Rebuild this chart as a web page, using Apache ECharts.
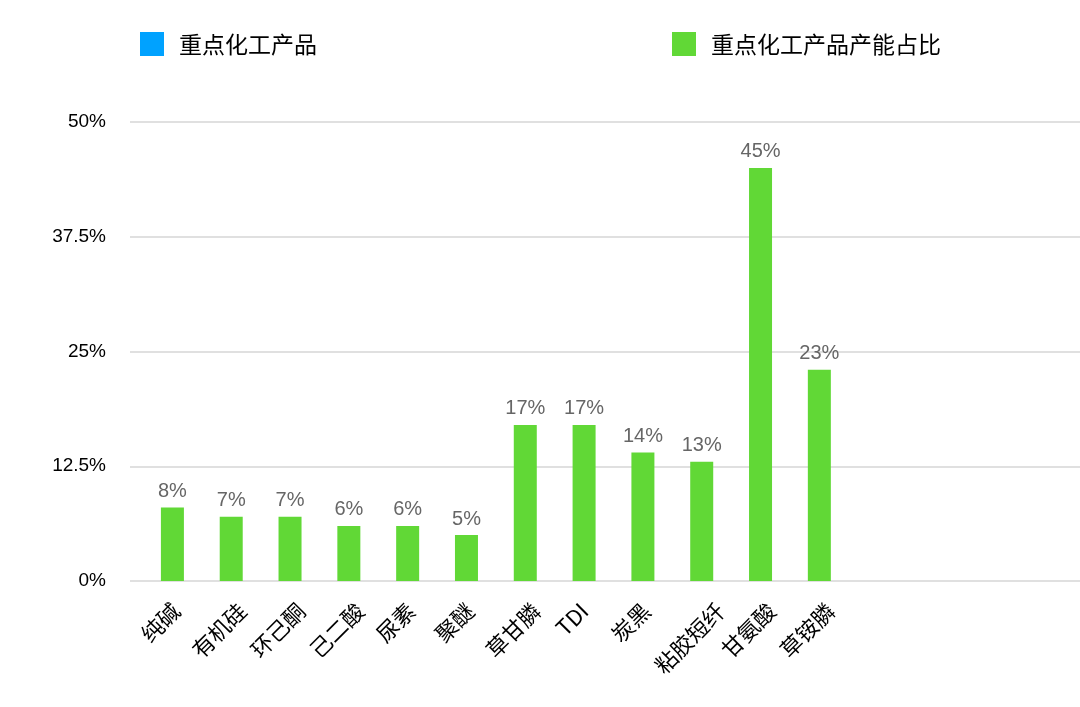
<!DOCTYPE html>
<html>
<head>
<meta charset="utf-8">
<script src="https://cdn.jsdelivr.net/npm/echarts@6/dist/echarts.min.js"></script>
<style>
html,body{margin:0;padding:0;background:#fff;}
#chart{width:1080px;height:707px;}
</style>
</head>
<body>
<div id="chart"></div>
<script>
const categories = ['纯碱','有机硅','环己酮','己二酸','尿素','聚醚','草甘膦','TDI','炭黑','粘胶短纤','甘氨酸','草铵膦'];
const shareValues = [8,7,7,6,6,5,17,17,14,13,45,23];
const productValues = [];
const yTickLabels = ['0%','12.5%','25%','37.5%','50%'];
const seriesNames = ['重点化工产品','重点化工产品产能占比'];
const blankSlots = ['','','',''];

const FONT = '"Liberation Sans","Noto Sans CJK SC",sans-serif';
const CJK = '"Noto Sans CJK SC",sans-serif';
const LABEL_SIZE = 22;
const allCats = categories.concat(blankSlots);

// Rotated labels: keep each label's centre under its bar (as in the reference)
// by padding shorter labels relative to the longest one.
const ctx = document.createElement('canvas').getContext('2d');
ctx.font = LABEL_SIZE + 'px ' + CJK;
const widths = allCats.map(t => ctx.measureText(t).width);
const maxW = Math.max.apply(null, widths);
const rich = {};
allCats.forEach((t, i) => {
  const d = maxW - widths[i];
  rich['p' + i] = {fontSize: LABEL_SIZE, color: '#000', fontFamily: CJK,
                   padding: [0, d * 0.25, d * 0.5, 0]};
});
const shift = Math.round(-12 + 0.3535 * maxW);
const BAR_LEFT = 143, BAR_AREA_W = 941;

const chart = echarts.init(document.getElementById('chart'));
chart.setOption({
  backgroundColor: '#fff',
  animation: false,
  legend: [
    {data:[{name:seriesNames[0], icon:'rect'}], left:140, top:32, padding:0, itemWidth:24, itemHeight:24,
     textStyle:{fontSize:23, color:'#000', fontFamily:CJK, padding:[0,0,0,10]}},
    {data:[{name:seriesNames[1], icon:'rect'}], left:672, top:32, padding:0, itemWidth:24, itemHeight:24,
     textStyle:{fontSize:23, color:'#000', fontFamily:CJK, padding:[0,0,0,10]}}
  ],
  grid: [
    {left:130, right:0, top:122, bottom:126, outerBoundsMode:'none'},
    {left:BAR_LEFT, width:BAR_AREA_W, top:122, bottom:126, outerBoundsMode:'none'},
    {left:BAR_LEFT + shift, width:BAR_AREA_W, top:122, bottom:126, outerBoundsMode:'none'}
  ],
  xAxis: [
    {gridIndex:0, type:'value', min:0, max:1, show:false},
    {gridIndex:1, type:'category', data: allCats,
     axisLine:{show:false}, axisTick:{show:false}, axisLabel:{show:false}},
    {gridIndex:2, type:'category', data: allCats,
     axisLine:{show:false}, axisTick:{show:false},
     axisLabel:{interval:0, rotate:45, fontSize:LABEL_SIZE, color:'#000', margin:26, fontFamily:CJK,
       formatter:(v, i) => v ? '{p' + i + '|' + v + '}' : '', rich: rich}}
  ],
  yAxis: [
    {gridIndex:0, type:'value', min:0, max:50, interval:12.5,
     axisLine:{show:false}, axisTick:{show:false},
     splitLine:{lineStyle:{color:'#d6d6d6', width:1.5}},
     axisLabel:{fontSize:19, color:'#000', margin:24, fontFamily:FONT,
       formatter:(v)=>yTickLabels[Math.round(v/12.5)]}},
    {gridIndex:1, type:'value', min:0, max:50, interval:12.5, show:false, splitLine:{show:false}},
    {gridIndex:2, type:'value', min:0, max:50, interval:12.5, show:false, splitLine:{show:false}}
  ],
  series: [
    {name:seriesNames[0], type:'bar', xAxisIndex:1, yAxisIndex:1, data:productValues,
     itemStyle:{color:'#00A2FF'}, barWidth:23, barGap:'-100%'},
    {name:seriesNames[1], type:'bar', xAxisIndex:1, yAxisIndex:1, data:shareValues,
     itemStyle:{color:'#61D836'}, barWidth:23, barGap:'-100%',
     label:{show:true, position:'top', distance:6, fontSize:20, color:'#666', fontFamily:FONT,
       formatter:(p)=>p.value+'%'}}
  ]
});
</script>
</body>
</html>
